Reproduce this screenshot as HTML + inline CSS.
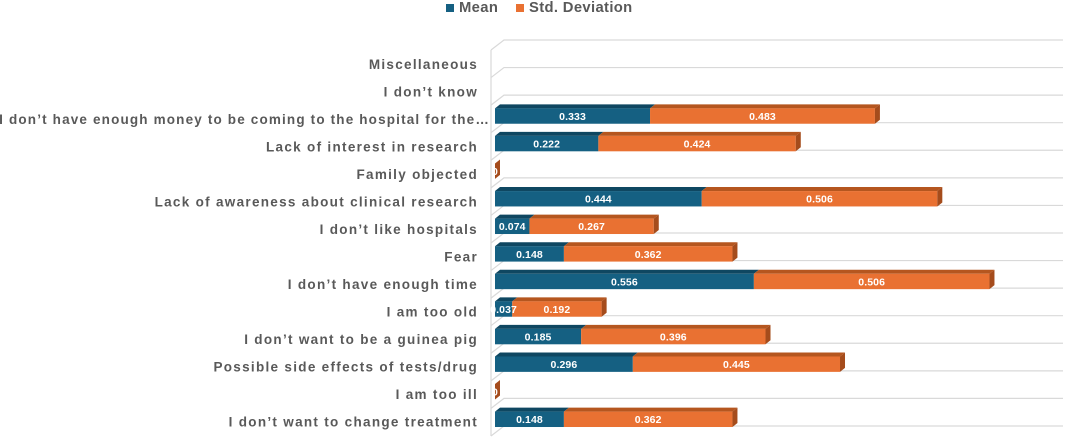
<!DOCTYPE html>
<html lang="en">
<head>
<meta charset="utf-8">
<title>Reasons chart</title>
<style>
html,body{margin:0;padding:0;background:#fff;width:1065px;height:438px;overflow:hidden}
svg{display:block;font-family:"Liberation Sans",sans-serif}
.cat{font-size:13.5px;font-weight:700;fill:#595959;letter-spacing:1.3px}
.cat.long{letter-spacing:1.16px}
.val{font-size:10.5px;font-weight:700;fill:#fff;text-anchor:middle;letter-spacing:.1px}
.leg{font-size:14.8px;font-weight:700;fill:#595959;letter-spacing:.35px}
</style>
</head>
<body>
<svg id="chart" width="1065" height="438" viewBox="0 0 1065 438">
  <g>
    <rect x="446" y="4" width="8" height="8" fill="#156082"/>
    <text class="leg" x="459" y="12">Mean</text>
    <rect x="516" y="4" width="8" height="8" fill="#E97132"/>
    <text class="leg" x="529" y="12">Std. Deviation</text>
  </g>
  <g id="grid"></g>
  <g id="labels"></g>
  <g id="bars"></g>
  <g id="values"></g>
</svg>
<script>
const categories = [
  "Miscellaneous",
  "I don\u2019t know",
  "I don\u2019t have enough money to be coming to the hospital for the\u2026",
  "Lack of interest in research",
  "Family objected",
  "Lack of awareness about clinical research",
  "I don\u2019t like hospitals",
  "Fear",
  "I don\u2019t have enough time",
  "I am too old",
  "I don\u2019t want to be a guinea pig",
  "Possible side effects of tests/drug",
  "I am too ill",
  "I don\u2019t want to change treatment"
];
const meanValues = [null, null, 0.333, 0.222, 0, 0.444, 0.074, 0.148, 0.556, 0.037, 0.185, 0.296, 0, 0.148];
const stdValues = [null, null, 0.483, 0.424, 0, 0.506, 0.267, 0.362, 0.506, 0.192, 0.396, 0.445, 0, 0.362];

const NS = "http://www.w3.org/2000/svg";
const plotLeft = 495, unitWidth = 465.6;
const firstBack = 40, rowStep = 27.57;
const depthX = 5, depthY = 4, barHeight = 15.4;

function xScale(v) { return plotLeft + v * unitWidth; }
function rowBack(i) { return firstBack + i * rowStep; }
function barTop(i) { return rowBack(i) + 13.2; }
function labelBaseline(i) { return 69.2 + i * 27.48; }

function make(tag, attrs, parent) {
  const el = document.createElementNS(NS, tag);
  for (const k in attrs) el.setAttribute(k, attrs[k]);
  parent.appendChild(el);
  return el;
}

const gridG = document.getElementById("grid");
const labelsG = document.getElementById("labels");
const barsG = document.getElementById("bars");
const valuesG = document.getElementById("values");

for (let j = 0; j <= categories.length; j++) {
  const y = rowBack(j);
  const line = make("path", { d: `M491 ${y + 10}L504 ${y}H1063`, fill: "none", stroke: "#D9D9D9", "stroke-width": 1.2 }, gridG);
  
  
}
const wall = make("line", { x1: 491, y1: rowBack(0) + 10, x2: 491, y2: rowBack(categories.length) + 10, stroke: "#D9D9D9", "stroke-width": 1.2 }, gridG);



function drawSegment(i, from, to, front, top, name) {
  const y = barTop(i), x0 = xScale(from), x1 = xScale(to);
  const t = make("polygon", { points: `${x0},${y} ${x0 + depthX},${y - depthY} ${x1 + depthX},${y - depthY} ${x1},${y}`, fill: top }, barsG);
  
  
  const r = make("rect", { x: x0, y: y, width: x1 - x0, height: barHeight, fill: front }, barsG);
  
  
}

function drawSide(i, end) {
  const y = barTop(i), x1 = xScale(end);
  const s = make("polygon", { points: `${x1},${y} ${x1 + depthX},${y - depthY} ${x1 + depthX},${y - depthY + barHeight} ${x1},${y + barHeight}`, fill: "#A54C1C" }, barsG);
  
  
}

function drawValue(i, center, text, name) {
  const t = make("text", { class: "val", x: center, y: barTop(i) + 11.6 }, valuesG);
  t.textContent = text;
  
  
}

categories.forEach((c, i) => {
  const truncated = c.endsWith("\u2026");
  const t = make("text", { class: truncated ? "cat long" : "cat", x: truncated ? 490 : 478, y: labelBaseline(i), "text-anchor": "end" }, labelsG);
  t.textContent = c;
  
  

  const m = meanValues[i], s = stdValues[i];
  if (m === null || s === null) return;
  if (m > 0) drawSegment(i, 0, m, "#156082", "#0F4761", "bar-mean");
  if (s > 0) drawSegment(i, m, m + s, "#E97132", "#B5561F", "bar-std-deviation");
  drawSide(i, m + s);
  if (m > 0) drawValue(i, xScale(m / 2), m.toFixed(3), "value-label-mean");
  drawValue(i, xScale(m + s / 2), s === 0 ? "0" : s.toFixed(3), "value-label-std-deviation");
});
</script>
</body>
</html>
